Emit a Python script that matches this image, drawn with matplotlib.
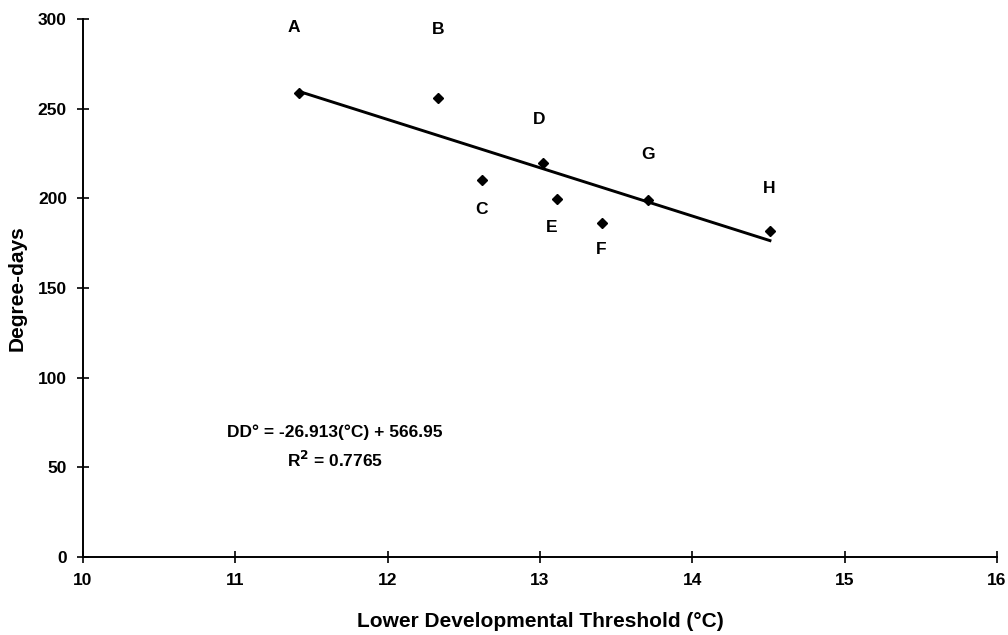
import numpy as np
import matplotlib.pyplot as plt

plt.rcParams['font.family'] = ['Liberation Sans', 'DejaVu Sans']
plt.rcParams['font.weight'] = 'bold'

# data
labels = ['A', 'B', 'C', 'D', 'E', 'F', 'G', 'H']
threshold = [11.42, 12.33, 12.62, 13.02, 13.11, 13.41, 13.71, 14.51]
degree_days = [258.6, 256.2, 210.3, 219.6, 199.8, 186.5, 199.1, 181.8]
slope, intercept = -26.913, 566.95
r2 = 0.7765

# label offsets in pixels (dx, dy)
offsets = [(-5, 66), (0, 68), (-1, -30), (-4, 44), (-5, -29), (-1, -27), (0, 45), (-1, 43)]

fig = plt.figure(figsize=(10.08, 6.35), dpi=100)
ax = fig.add_axes([0.0823, 0.1228, 0.9067, 0.8472])

ax.plot(threshold, degree_days, linestyle='', marker='D', markersize=5.5, color='black')

# trend line
xs = np.array([min(threshold), max(threshold)])
ax.plot(xs, slope * xs + intercept, color='black', linewidth=2.1)

for lab, x, y, (dx, dy) in zip(labels, threshold, degree_days, offsets):
    ax.annotate(lab, (x, y), xytext=(dx * 0.72, dy * 0.72), textcoords='offset points',
                ha='center', va='center', fontsize=12.5, fontweight='bold')

ax.text(0.276, 0.232, 'DD° = -26.913(°C) + 566.95', transform=ax.transAxes,
        ha='center', va='center', fontsize=12.5, fontweight='bold')
ax.text(0.276, 0.181, 'R$^{\\mathbf{2}}$ = %.4f' % r2, transform=ax.transAxes,
        ha='center', va='center', fontsize=12.5, fontweight='bold')

ax.set_xlim(10, 16)
ax.set_ylim(0, 300)
ax.set_xticks(range(10, 17))
ax.set_yticks(range(0, 301, 50))
ax.spines['top'].set_visible(False)
ax.spines['right'].set_visible(False)
ax.spines['left'].set_linewidth(1.4)
ax.spines['bottom'].set_linewidth(1.4)
ax.tick_params(direction='inout', length=9, width=1.2, labelsize=12.5, pad=7)
for t in ax.get_xticklabels() + ax.get_yticklabels():
    t.set_fontweight('bold')

ax.set_xlabel('Lower Developmental Threshold (°C)', fontsize=15, fontweight='bold', labelpad=17)
ax.set_ylabel('Degree-days', fontsize=15, fontweight='bold', labelpad=8)

fig.savefig('out.png', dpi=100)
